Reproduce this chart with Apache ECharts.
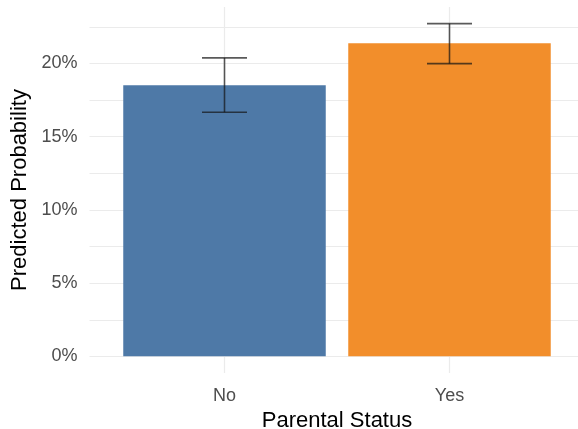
<!DOCTYPE html>
<html>
<head>
<meta charset="utf-8">
<script src="https://cdn.jsdelivr.net/npm/echarts@6/dist/echarts.min.js"></script>
<style>
  html, body { margin: 0; padding: 0; background: #fff; }
  #chart { width: 578px; height: 429px; }
</style>
</head>
<body>
<div id="chart"></div>
<script>
// Predicted probability (%) by parental status, with confidence intervals
const categories = ['No', 'Yes'];
const predicted = [18.51, 21.38];
const lower = [16.67, 19.99];
const upper = [20.38, 22.72];
const barColors = ['#4E79A7', '#F28E2B'];

const yTickLabels = [0, 5, 10, 15, 20];
const yGridValues = [0, 2.5, 5, 7.5, 10, 12.5, 15, 17.5, 20, 22.5];
const xPositions = [1, 2];

// Panel padding: 5% of the data range on each side, 0.6 units on the discrete axis
const yMax = Math.max(...upper);
const yPad = yMax * 0.05;

const gridColor = '#EBEBEB';
const font = 'Liberation Sans, Arial, sans-serif';

const chart = echarts.init(document.getElementById('chart'), null, { renderer: 'canvas' });

chart.setOption({
  animation: false,
  backgroundColor: '#ffffff',
  grid: { left: 89.5, top: 7, width: 495, bottom: 56, containLabel: false, outerBoundsMode: 'none' },
  xAxis: {
    type: 'value',
    min: 0.4,
    max: 2.6,
    name: 'Parental Status',
    nameLocation: 'middle',
    nameGap: 36,
    nameTextStyle: { color: '#000', fontSize: 22, fontFamily: font },
    axisLine: { show: false },
    axisTick: { show: false, customValues: xPositions },
    splitLine: { show: false },
    axisLabel: {
      customValues: xPositions,
      margin: 14,
      color: '#4D4D4D',
      fontSize: 18,
      fontFamily: font,
      formatter: v => categories[Math.round(v) - 1] || ''
    }
  },
  yAxis: {
    type: 'value',
    min: -yPad,
    max: yMax + yPad,
    name: 'Predicted Probability',
    nameLocation: 'middle',
    nameGap: 52,
    nameTextStyle: { color: '#000', fontSize: 22, fontFamily: font },
    axisLine: { show: false },
    axisTick: { show: false, customValues: yTickLabels },
    splitLine: { show: false },
    axisLabel: {
      customValues: yTickLabels,
      margin: 12,
      color: '#4D4D4D',
      fontSize: 18,
      fontFamily: font,
      formatter: v => Math.round(v) + '%'
    }
  },
  series: [
    {
      // panel gridlines, kept beneath the bars
      type: 'line',
      data: [],
      z: 0,
      silent: true,
      markLine: {
        z: 0,
        silent: true,
        symbol: 'none',
        label: { show: false },
        animation: false,
        data: [
          ...yGridValues.map(v => ({ yAxis: v, lineStyle: { color: gridColor, width: v % 5 === 0 ? 1.2 : 1, type: 'solid' } })),
          ...xPositions.map(v => ({ xAxis: v, lineStyle: { color: gridColor, width: 1.2, type: 'solid' } }))
        ]
      }
    },
    {
      type: 'bar',
      z: 2,
      barWidth: 202.5,
      data: predicted.map((p, i) => ({ value: [xPositions[i], p], itemStyle: { color: barColors[i] } }))
    },
    {
      // confidence interval whiskers
      type: 'custom',
      z: 3,
      data: predicted.map((p, i) => [xPositions[i], lower[i], upper[i]]),
      renderItem: (params, api) => {
        const x = api.value(0);
        const lo = api.coord([x, api.value(1)]);
        const hi = api.coord([x, api.value(2)]);
        const half = (api.coord([x + 0.1, 0])[0] - api.coord([x, 0])[0]);
        const style = { stroke: 'rgba(20,20,20,0.7)', lineWidth: 1.6, fill: null };
        return {
          type: 'group',
          children: [
            { type: 'line', shape: { x1: lo[0], y1: lo[1], x2: hi[0], y2: hi[1] }, style },
            { type: 'line', shape: { x1: lo[0] - half, y1: lo[1], x2: lo[0] + half, y2: lo[1] }, style },
            { type: 'line', shape: { x1: hi[0] - half, y1: hi[1], x2: hi[0] + half, y2: hi[1] }, style }
          ]
        };
      }
    }
  ]
});
</script>
</body>
</html>
